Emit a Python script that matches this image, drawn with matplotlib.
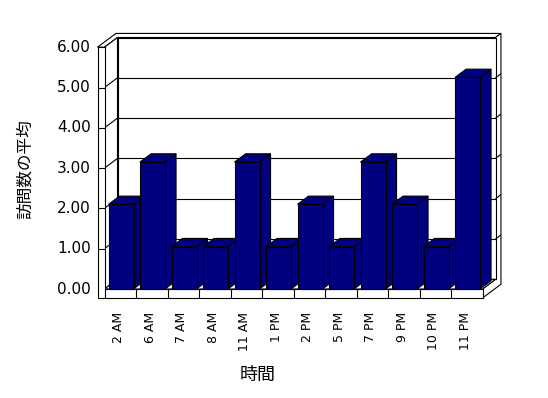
import matplotlib
matplotlib.use('Agg')
import matplotlib.pyplot as plt
from matplotlib.patches import Polygon

# ---- data ----
categories = ['2 AM', '6 AM', '7 AM', '8 AM', '11 AM', '1 PM',
              '2 PM', '5 PM', '7 PM', '9 PM', '10 PM', '11 PM']
values = [2, 3, 1, 1, 3, 1, 2, 1, 3, 2, 1, 5]
y_ticks = [0, 1, 2, 3, 4, 5, 6]
y_tick_labels = ['0.00', '1.00', '2.00', '3.00', '4.00', '5.00', '6.00']
x_title = '時間'
y_title = '訪問数の平均'

# ---- figure / pseudo-3D projection setup ----
W, H = 548, 398
fig = plt.figure(figsize=(W / 100, H / 100), dpi=100)
ax = fig.add_axes([0, 0, 1, 1])
ax.axis('off')

X0_PX, CAT_PX = 104.5, 31.5     # front plane: category 0 left edge, px per category
Y0_PX, VAL_PX = 289.0, 40.3     # front plane: value 0 (from top), px per unit
ax.set_xlim(-X0_PX / CAT_PX, (W - X0_PX) / CAT_PX)
ax.set_ylim(-(H - Y0_PX) / VAL_PX, Y0_PX / VAL_PX)

N = len(categories)
YMAX = y_ticks[-1]
DX, DY = 13.0 / CAT_PX, 9.7 / VAL_PX     # depth vector front -> back wall inner face
OUT = 1.42                               # back wall outer face depth
TW = 7.0 / CAT_PX                        # left wall thickness
TF = 9.0 / VAL_PX                        # floor thickness
BD = 0.85                                # bar depth
BAR_K = 1.05                             # perspective scale of bar heights
OFF, BW = 4.0 / CAT_PX, 25.0 / CAT_PX    # bar offset / width in category units

NAVY = '#000080'
LW = 0.8


def P(x, v, d):
    return (x + d * DX, v + d * DY)


def poly(pts, fc='white', z=1):
    ax.add_patch(Polygon(pts, closed=True, facecolor=fc, edgecolor='black',
                         linewidth=LW, zorder=z, joinstyle='miter'))


def line(p, q, z=2):
    ax.plot([p[0], q[0]], [p[1], q[1]], color='black', lw=LW, zorder=z,
            solid_capstyle='butt')


# top faces of left wall + back wall
poly([P(-TW, YMAX, 0), P(0, YMAX, 0), P(0, YMAX, 1), P(N, YMAX, 1),
      P(N, YMAX, OUT), P(-TW, YMAX, OUT)], z=1)
# right side face of floor + back wall
poly([P(N, -TF, 0), P(N, 0, 0), P(N, 0, 1), P(N, YMAX, 1),
      P(N, YMAX, OUT), P(N, -TF, OUT)], z=1)
# back wall inner face
poly([P(0, 0, 1), P(N, 0, 1), P(N, YMAX, 1), P(0, YMAX, 1)], z=1)
# left wall inner face
poly([P(0, 0, 0), P(0, 0, 1), P(0, YMAX, 1), P(0, YMAX, 0)], z=1)
# floor top
poly([P(0, 0, 0), P(N, 0, 0), P(N, 0, 1), P(0, 0, 1)], z=1)

for v in y_ticks[1:-1]:
    line(P(0, v, 1), P(N, v, 1))          # back wall gridline
    line(P(0, v, 0), P(0, v, 1))          # left wall gridline
    line(P(N, v, 1), P(N, v, OUT))        # back wall edge stub

# front face of left wall + floor (L shape)
poly([P(-TW, -TF, 0), P(N, -TF, 0), P(N, 0, 0), P(0, 0, 0),
      P(0, YMAX, 0), P(-TW, YMAX, 0)], z=5)
for v in y_ticks[1:-1]:
    line(P(-TW, v, 0), P(0, v, 0), z=6)
for i in range(N):
    line(P(i, 0, 0), P(i, -TF, 0), z=6)

# bars
heights = [v * BAR_K for v in values]
xs = [i + OFF for i in range(N)]
bars = ax.bar(xs, heights, width=BW, align='edge', color=NAVY,
              edgecolor='black', linewidth=LW)
for i, (rect, x, h) in enumerate(zip(bars, xs, heights)):
    z = 10 + 3 * i
    poly([P(x + BW, 0, 0), P(x + BW, h, 0), P(x + BW, h, BD), P(x + BW, 0, BD)],
         fc=NAVY, z=z)
    poly([P(x, h, 0), P(x + BW, h, 0), P(x + BW, h, BD), P(x, h, BD)],
         fc=NAVY, z=z + 1)
    rect.set_zorder(z + 2)

# tick labels
for v, lab in zip(y_ticks, y_tick_labels):
    ax.text(-TW - 6.5 / CAT_PX, v, lab, ha='right', va='center',
            fontsize=11, family='DejaVu Sans', zorder=20)
for i, lab in enumerate(categories):
    ax.text(i + 0.45, -TF - 14.0 / VAL_PX, lab, rotation=90, ha='center',
            va='top', fontsize=9, family='DejaVu Sans', zorder=20)

# axis titles
fig.text(258 / W, 1 - 375 / H, x_title, ha='center', va='center',
         fontsize=13, family=['Noto Sans CJK JP', 'DejaVu Sans'])
fig.text(25 / W, 1 - 169 / H, y_title, ha='center', va='center', rotation=90,
         fontsize=12, family=['Noto Sans CJK JP', 'DejaVu Sans'])

fig.savefig('out.png', dpi=100, facecolor='white')
